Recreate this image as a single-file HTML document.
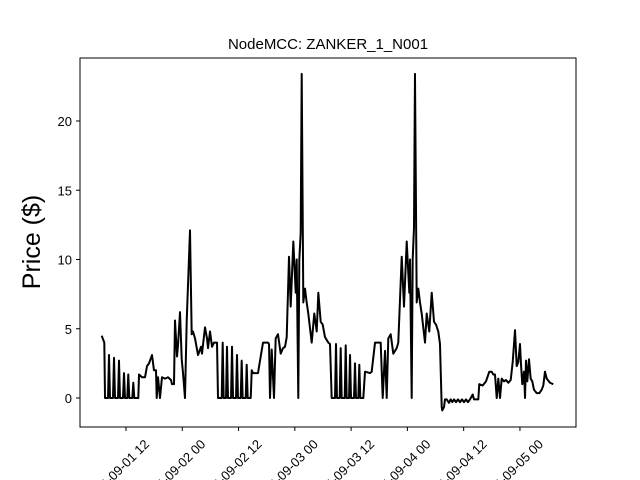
<!DOCTYPE html>
<html><head><meta charset="utf-8"><style>
html,body{margin:0;padding:0;background:#fff;width:640px;height:480px;overflow:hidden;}
svg{display:block;overflow:hidden;font-family:"Liberation Sans","DejaVu Sans",sans-serif;}
</style></head><body>
<svg id="chart" width="640" height="480" viewBox="0 0 640 480">
<rect x="0" y="0" width="640" height="480" fill="#fff"/>
<text x="328" y="49" font-size="15" text-anchor="middle">NodeMCC: ZANKER_1_N001</text>
<text transform="translate(40,242) rotate(-90)" font-size="25" text-anchor="middle">Price ($)</text>
<g id="ticks"></g>
<path id="line" fill="none" stroke="#000" stroke-width="2" stroke-linejoin="round"/>
<rect x="80" y="58" width="496" height="369" fill="none" stroke="#000" stroke-width="1"/>
</svg>
<script>
// hours since 09-01 00:00
const times = [6.82,7.38,7.53,8.17,8.38,8.59,9.23,9.45,9.66,10.3,10.51,10.72,11.36,11.58,11.79,12.28,12.49,12.71,13.35,13.56,13.77,14.63,14.78,15.42,16.06,16.48,16.91,17.55,17.97,18.40,18.55,18.83,19.25,19.68,20.32,20.96,21.6,21.81,22.24,22.45,22.88,23.09,23.52,23.88,24.16,24.58,24.95,25.65,26.01,26.29,26.72,27.36,28.0,28.21,28.85,29.28,29.49,29.92,30.35,30.77,31.41,31.62,
32.41,32.62,32.83,33.33,33.54,33.75,34.4,34.61,34.82,35.46,35.67,35.88,36.46,36.67,36.88,37.53,37.74,37.95,38.6,38.81,39.08,40.15,40.58,41.22,42.07,42.28,42.5,42.71,43.07,43.56,43.92,44.41,44.99,45.48,45.91,46.27,46.76,47.12,47.68,48.19,48.40,48.74,48.96,49.25,49.47,49.81,50.17,50.53,50.87,51.6,52.15,52.67,53.01,53.52,53.94,54.43,55.14,55.5,55.86,
56.57,56.78,56.99,57.57,57.78,57.99,58.64,58.85,59.06,59.56,59.77,59.98,60.62,60.83,61.04,61.54,61.75,61.96,62.6,62.97,64.03,64.39,65.1,65.8,66.31,66.74,67.23,67.59,67.93,68.44,69.0,69.72,70.06,70.79,71.28,71.86,72.41,72.56,72.92,73.13,73.41,73.62,73.99,74.33,74.69,75.05,75.76,76.12,76.67,77.19,77.68,78.1,78.59,78.95,79.32,79.44,79.81,80.02,80.38,80.87,81.24,81.58,81.94,82.37,82.79,83.22,83.64,84.07,84.5,84.92,85.35,85.93,86.2,87.12,87.33,88.06,88.76,89.47,89.98,90.32,90.68,91.05,91.39,91.75,92.11,92.6,93.03,93.52,94.03,94.46,94.95,95.31,95.65,96.01,96.23,96.5,96.87,97.08,97.29,97.57,97.93,98.29,98.63,98.99,99.57,100.13,100.64,100.98,101.34,101.71,102.41,103.11];
const prices = [4.5,4.0,0,0,3.1,0,0,2.9,0,0,2.7,0,0,1.8,0,0,1.7,0,0,1.1,0,0,1.7,1.5,1.5,2.3,2.5,3.1,2.0,2.0,0,1.5,0,1.5,1.4,1.5,1.3,1.0,1.0,5.6,3.0,3.8,6.2,2.8,1.8,0,5.6,12.1,4.6,4.8,4.3,3.1,3.7,3.2,5.1,4.3,3.6,4.8,3.7,4.0,4.0,0,
0,4.0,0,0,3.7,0,0,3.7,0,0,3.1,0,0,2.7,0,0,2.4,0,0,2.0,1.8,1.8,2.7,4.0,4.0,4.0,3.9,0,3.5,0,4.3,4.6,3.2,3.6,3.7,4.4,10.2,6.6,11.3,7.6,10,0,10,11.9,23.4,6.9,7.9,6.9,6.1,4.0,6.1,4.8,7.6,5.5,5.3,4.4,4.0,3.9,0,
0,3.9,0,0,3.6,0,0,3.8,0,0,3.1,0,0,2.5,0,0,2.4,0,0,1.9,1.8,1.9,4.0,4.0,4.0,0,3.4,0,4.3,4.6,3.2,3.6,4.0,10.2,6.6,11.3,7.6,10,0,10,12.3,23.4,6.9,7.9,6.9,6.1,4.0,6.1,4.8,7.6,5.5,5.3,4.8,3.9,-0.65,-0.9,-0.65,-0.1,-0.1,-0.35,-0.1,-0.3,-0.1,-0.3,-0.1,-0.3,-0.1,-0.3,-0.1,-0.3,-0.1,0.25,-0.1,-0.1,1.0,0.9,1.2,1.9,1.9,1.7,1.7,0,1.4,0,1.4,1.2,1.3,1.1,1.3,2.6,4.9,2.3,2.6,3.9,2.4,1.0,1.9,0,2.7,1.2,2.8,1.4,1.2,0.6,0.35,0.35,0.6,0.9,1.9,1.4,1.1,1.0];
const yTicks = [0,5,10,15,20];
const xTickHours = [12,24,36,48,60,72,84,96];
const xTickLabels = ["09-01 12","09-02 00","09-02 12","09-03 00","09-03 12","09-04 00","09-04 12","09-05 00"];

function xScale(h){ return 69.7 + 4.69*h; }
function yScale(v){ return 398 - 13.85*v; }

const NS = "http://www.w3.org/2000/svg";
const tg = document.getElementById('ticks');
yTicks.forEach(function(t){
  const y = yScale(t);
  const l = document.createElementNS(NS,'line');
  l.setAttribute('x1',76); l.setAttribute('x2',80);
  l.setAttribute('y1',y); l.setAttribute('y2',y);
  l.setAttribute('stroke','#000');
  
  
  tg.appendChild(l);
  const tx = document.createElementNS(NS,'text');
  tx.setAttribute('x',72); tx.setAttribute('y',y+5);
  tx.setAttribute('font-size','13'); tx.setAttribute('text-anchor','end');
  tx.textContent = String(t);
  
  
  tg.appendChild(tx);
});
xTickHours.forEach(function(h,i){
  const x = xScale(h);
  const l = document.createElementNS(NS,'line');
  l.setAttribute('x1',x); l.setAttribute('x2',x);
  l.setAttribute('y1',427); l.setAttribute('y2',431);
  l.setAttribute('stroke','#000');
  
  
  tg.appendChild(l);
  const tx = document.createElementNS(NS,'text');
  tx.setAttribute('transform','translate('+(x+24)+',445) rotate(-45)');
  tx.setAttribute('font-size','13'); tx.setAttribute('text-anchor','end');
  tx.textContent = "2024-" + xTickLabels[i];
  
  
  tg.appendChild(tx);
});
let d = '';
times.forEach(function(h,i){
  d += (i ? 'L' : 'M') + xScale(h).toFixed(2) + ',' + yScale(prices[i]).toFixed(2);
});
document.getElementById('line').setAttribute('d', d);
</script>
</body></html>
